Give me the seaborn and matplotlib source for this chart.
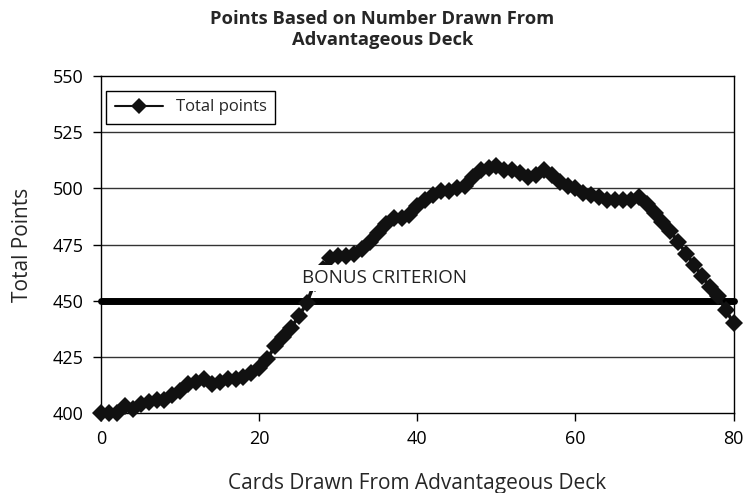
import matplotlib
matplotlib.use("Agg")
import matplotlib.pyplot as plt
import seaborn as sns
import pandas as pd

# values
cards = list(range(0, 81))
total_points = [
    400, 400, 400, 403, 402, 404, 405, 406, 406, 408,
    410, 413, 414, 415, 413, 414, 415, 415, 416, 418,
    420, 424, 430, 434, 438, 443, 449, 458, 464, 469,
    470, 470, 471, 473, 476, 480, 484, 487, 487, 488,
    492, 495, 497, 499, 499, 500, 501, 505, 508, 509,
    510, 508, 508, 507, 505, 506, 508, 506, 503, 501,
    500, 498, 497, 496, 495, 495, 495, 495, 496, 493,
    489, 485, 481, 476, 471, 466, 461, 456, 452, 446,
    440,
]
bonus_value = 450
y_ticks = [400, 425, 450, 475, 500, 525, 550]
x_ticks = [0, 20, 40, 60, 80]

df = pd.DataFrame({'cards': cards, 'points': total_points})
bonus_df = pd.DataFrame({'cards': cards, 'points': [bonus_value] * len(cards)})

sns.set_theme(style="white")
plt.rcParams['font.family'] = ['Open Sans', 'DejaVu Sans']

fig = plt.figure(figsize=(7.44, 4.93), dpi=100)
ax = fig.add_axes([0.136, 0.162, 0.850, 0.684])

for y in y_ticks[1:-1]:
    ax.axhline(y, color='#333333', linewidth=1.0, zorder=1)

# thick criterion line
sns.lineplot(data=bonus_df, x='cards', y='points', ax=ax, color='black',
             linewidth=5, legend=False, zorder=2, clip_on=False,
             solid_capstyle='round')

sns.lineplot(data=df, x='cards', y='points', ax=ax, color='#111111',
             linewidth=2.5, marker='D', markersize=9, markeredgewidth=0,
             label='Total points', zorder=3, clip_on=False)

ax.text(35.8, 460, 'BONUS CRITERION', fontsize=13.5, ha='center', va='center',
        color='#222222', zorder=4,
        bbox=dict(facecolor='white', edgecolor='none', pad=3))

ax.set_xlim(0, 80)
ax.set_ylim(400, 550)
ax.set_xticks(x_ticks)
ax.set_yticks(y_ticks)
ax.tick_params(axis='both', labelsize=13, colors='black', direction='out',
               length=6, width=1, pad=6, left=True, bottom=True)
ax.tick_params(axis='y', pad=7)
for s in ax.spines.values():
    s.set_color('black')
    s.set_linewidth(1.0)

ax.set_xlabel('Cards Drawn From Advantageous Deck', fontsize=15, labelpad=18)
ax.set_ylabel('Total Points', fontsize=15, labelpad=14)
fig.suptitle('Points Based on Number Drawn From\nAdvantageous Deck',
             x=0.514, y=0.98, fontsize=13.2, fontweight='bold', linespacing=1.2)

handles, labels = ax.get_legend_handles_labels()
leg = ax.legend(handles, labels, loc='upper left', fontsize=12, frameon=True,
                fancybox=False, edgecolor='black', framealpha=1, borderpad=0.5,
                borderaxespad=0, handlelength=2.9, handletextpad=0.8,
                bbox_to_anchor=(0.008, 0.955))
leg.get_frame().set_linewidth(1.0)
for h in leg.legend_handles:
    h.set_markersize(8)
    h.set_linewidth(1.5)

plt.savefig('out.png', dpi=100)
plt.close()
